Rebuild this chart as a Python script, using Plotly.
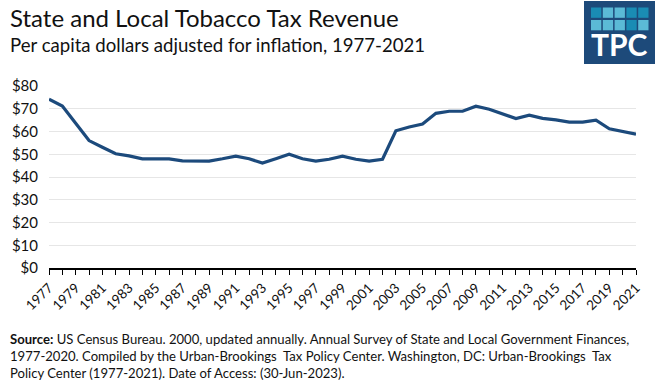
import plotly.graph_objects as go

years = list(range(1977, 2022))
revenue = [74.2, 71.2, 63.6, 56.0, 53.1, 50.2, 49.3, 48.0, 48.0, 48.0,
           47.1, 47.0, 47.0, 48.0, 49.2, 48.0, 46.1, 48.0, 50.0, 48.0,
           47.0, 47.8, 49.2, 47.8, 47.0, 47.8, 60.3, 62.0, 63.3, 68.0,
           68.9, 68.9, 71.1, 69.8, 67.9, 65.7, 67.2, 65.8, 65.1, 64.1,
           64.1, 65.0, 61.2, 60.0, 58.8]
y_ticks = [0, 10, 20, 30, 40, 50, 60, 70, 80]
y_labels = ["$" + str(v) for v in y_ticks]
x_ticks = list(range(1977, 2022, 2))

W, H = 656, 385
L, R, T, B = 49, 20, 86, 117
PW, PH = W - L - R, H - T - B

def px(x):
    return (x - L) / PW

def py(y):
    return (H - B - y) / PH

fig = go.Figure()
fig.add_trace(go.Scatter(x=years, y=revenue, mode="lines",
                         line=dict(color="#1c4a7c", width=3.2),
                         hoverinfo="skip", showlegend=False))

font = "Lato, 'Open Sans', sans-serif"
annotations = [
    dict(text="State and Local Tobacco Tax Revenue", x=px(8), y=py(17),
         xref="paper", yref="paper", xanchor="left", yanchor="middle",
         showarrow=False, font=dict(family=font, size=24, color="#111")),
    dict(text="Per capita dollars adjusted for inflation, 1977-2021", x=px(8), y=py(45),
         xref="paper", yref="paper", xanchor="left", yanchor="middle",
         showarrow=False, font=dict(family=font, size=18.6, color="#111")),
    dict(text="<b>Source:</b> US Census Bureau. 2000, updated annually. Annual Survey of State and Local Government Finances,<br>"
              "1977-2020. Compiled by the Urban-Brookings  Tax Policy Center. Washington, DC: Urban-Brookings  Tax<br>"
              "Policy Center (1977-2021). Date of Access: (30-Jun-2023).",
         x=px(8), y=py(329), xref="paper", yref="paper", xanchor="left", yanchor="top",
         align="left", showarrow=False, font=dict(family=font, size=13.1, color="#111")),
    dict(text="<b>TPC</b>", x=px(619.5), y=py(44), xref="paper", yref="paper",
         xanchor="center", yanchor="middle", showarrow=False,
         font=dict(family=font, size=30, color="white")),
]

shapes = [dict(type="rect", xref="paper", yref="paper",
               x0=px(584), x1=px(655), y0=py(1), y1=py(64),
               fillcolor="#1d4a7a", line=dict(width=0), layer="above")]
dark, light = "#1a8cb4", "#5bbad6"
rows = [[dark, light, light, dark, dark], [light, light, light, dark, light]]
for r, row in enumerate(rows):
    for c, col in enumerate(row):
        x0 = 591 + c * 11.8
        y0 = 7.5 + r * 12.5
        shapes.append(dict(type="rect", xref="paper", yref="paper",
                           x0=px(x0), x1=px(x0 + 10.3), y0=py(y0), y1=py(y0 + 10.3),
                           fillcolor=col, line=dict(width=0), layer="above"))

fig.update_layout(
    width=W, height=H,
    margin=dict(l=L, r=R, t=T, b=B),
    paper_bgcolor="white", plot_bgcolor="white",
    annotations=annotations, shapes=shapes,
    font=dict(family=font, color="#111"),
    xaxis=dict(range=[1977, 2021], tickmode="array", tickvals=x_ticks,
               ticktext=[str(v) for v in x_ticks], tickangle=-45,
               ticks="outside", ticklen=5, tickcolor="black", tickwidth=1,
               minor=dict(dtick=1, ticks="outside", ticklen=5, tickcolor="black", tickwidth=1),
               showline=True, linecolor="black", linewidth=1.5,
               showgrid=False, zeroline=False,
               tickfont=dict(family=font, size=13.5, color="#111")),
    yaxis=dict(range=[0, 80], tickmode="array", tickvals=y_ticks, ticktext=y_labels,
               showgrid=True, gridcolor="#e6e6e6", gridwidth=1,
               zeroline=False, showline=False, ticks="", ticklabelstandoff=10,
               tickfont=dict(family=font, size=15, color="#111")),
)

fig.write_html("out.html", config={"displayModeBar": False})
with open("out.html", "r", encoding="utf-8") as f:
    html = f.read()
html = html.replace("<head>", "<head><style>html,body{margin:0;padding:0;overflow:hidden;}</style>", 1)
with open("out.html", "w", encoding="utf-8") as f:
    f.write(html)
